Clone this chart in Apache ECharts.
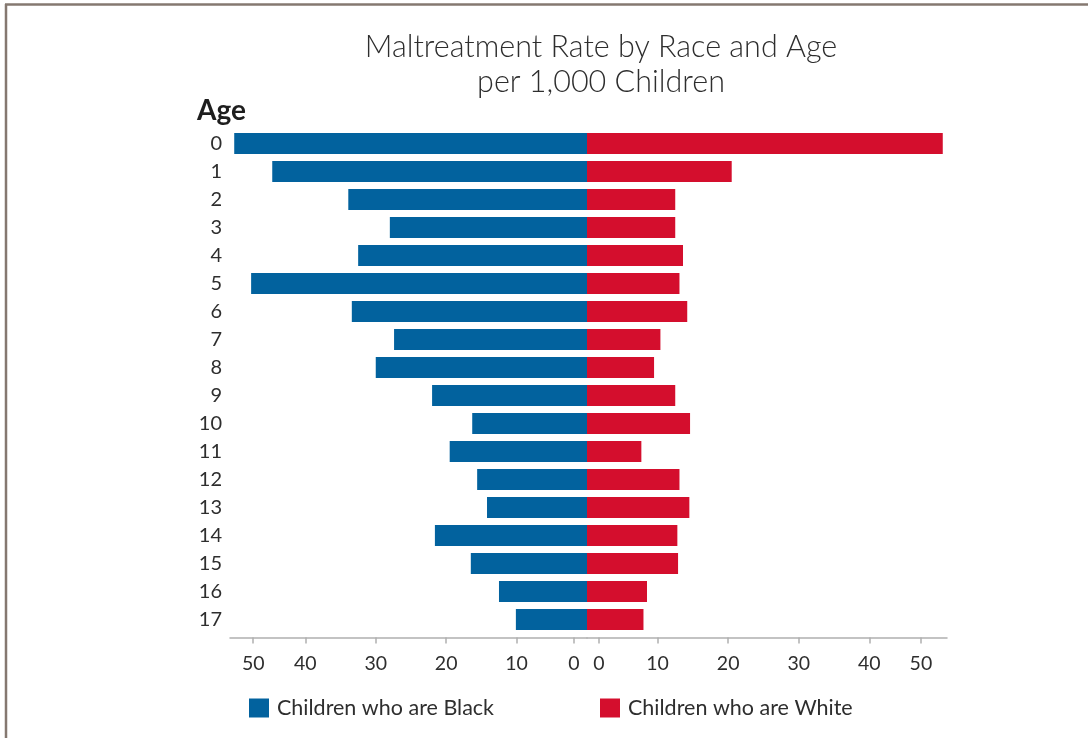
<!DOCTYPE html>
<html>
<head>
<meta charset="utf-8">
<script src="https://cdn.jsdelivr.net/npm/echarts@6/dist/echarts.min.js"></script>
<style>
html,body{margin:0;padding:0;background:#fff;}
#chart{width:1088px;height:738px;}
</style>
</head>
<body>
<div id="chart"></div>
<script>
var ages = ['0','1','2','3','4','5','6','7','8','9','10','11','12','13','14','15','16','17'];
var blackRates = [50.1, 44.7, 33.9, 28.0, 32.5, 47.7, 33.4, 27.4, 30.0, 22.0, 16.3, 19.5, 15.6, 14.2, 21.6, 16.5, 12.5, 10.1];
var whiteRates = [50.4, 20.5, 12.5, 12.5, 13.6, 13.1, 14.2, 10.4, 9.5, 12.5, 14.6, 7.7, 13.1, 14.5, 12.8, 12.9, 8.5, 8.0];
var tickLabels = ['0','10','20','30','40','50'];
var seriesNames = ['Children who are Black', 'Children who are White'];

var FONT = 'Lato, "Open Sans", sans-serif';
var TXT = '#2e2e2e';
var BLUE = '#02629e';
var RED = '#d40e2d';
var AX = '#b0b0b0';

// label placement on each half-axis (the drawn axis shifts the 0 and 50 labels)
var leftTickAt = [1.85, 10, 20, 30, 40, 47.4];
var rightTickAt = [1.7, 10, 20, 30, 40, 47.3];

function makeX(gridIndex, inverse, max, at) {
  return {
    type: 'value', gridIndex: gridIndex, inverse: inverse, min: 0, max: max, offset: 4,
    splitLine: {show: false},
    axisLine: {show: true, lineStyle: {color: AX, width: 1.5}},
    axisTick: {show: true, length: 6, lineStyle: {color: AX, width: 1.5}, customValues: at},
    axisLabel: {
      show: true, customValues: at, margin: 16,
      fontFamily: FONT, fontSize: 19.5, color: TXT,
      formatter: function (v) {
        var i = at.indexOf(v);
        return i >= 0 ? tickLabels[i] : '';
      }
    }
  };
}

var chart = echarts.init(document.getElementById('chart'));
chart.setOption({
  backgroundColor: '#fff',
  animation: false,
  title: [
    {
      text: 'Maltreatment Rate by Race and Age\nper 1,000 Children',
      left: 596, top: 25, textAlign: 'center',
      textStyle: {fontFamily: FONT, fontWeight: 300, fontSize: 30.5, lineHeight: 35, color: TXT}
    },
    {
      text: 'Age', left: 192, top: 92,
      textStyle: {fontFamily: FONT, fontWeight: 'bold', fontSize: 28, color: '#1e1e1e'}
    }
  ],
  legend: {
    left: 249, top: 697, padding: 0, icon: 'rect', itemWidth: 20, itemHeight: 19, itemGap: 106,
    data: seriesNames,
    textStyle: {fontFamily: FONT, fontSize: 21.5, color: TXT, padding: [0, 0, 0, 3]}
  },
  grid: [
    {left: 230, right: 501, top: 129.5, height: 504},
    {left: 587, right: 141, top: 129.5, height: 504}
  ],
  xAxis: [
    makeX(0, true, 50.7, leftTickAt),
    makeX(1, false, 51.0, rightTickAt)
  ],
  yAxis: [
    {
      type: 'category', gridIndex: 0, data: ages, inverse: true,
      axisLine: {show: false}, axisTick: {show: false},
      axisLabel: {fontFamily: FONT, fontSize: 20, color: TXT, margin: 8}
    },
    {
      type: 'category', gridIndex: 1, data: ages, inverse: true,
      axisLine: {show: false}, axisTick: {show: false}, axisLabel: {show: false}
    }
  ],
  series: [
    {
      name: seriesNames[0], type: 'bar', xAxisIndex: 0, yAxisIndex: 0,
      data: blackRates, barWidth: 21, itemStyle: {color: BLUE}
    },
    {
      name: seriesNames[1], type: 'bar', xAxisIndex: 1, yAxisIndex: 1,
      data: whiteRates, barWidth: 21, itemStyle: {color: RED}
    }
  ],
  graphic: [
    {type: 'line', shape: {x1: 5, y1: 4.5, x2: 1088, y2: 4.5}, style: {stroke: '#857870', lineWidth: 2.5}},
    {type: 'line', shape: {x1: 6, y1: 4, x2: 6, y2: 738}, style: {stroke: '#857870', lineWidth: 2.5}}
  ]
});
</script>
</body>
</html>
